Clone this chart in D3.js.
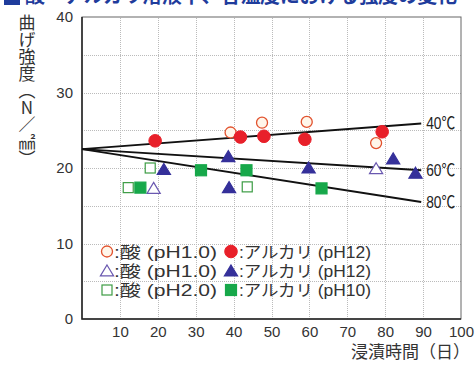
<!DOCTYPE html>
<html>
<head>
<meta charset="utf-8">
<script src="https://cdn.jsdelivr.net/npm/d3@7"></script>
<style>
  body { margin: 0; background: #fff; }
  svg { display: block; font-family: "Liberation Sans", "Noto Sans CJK JP", sans-serif; }
</style>
</head>
<body>
<svg id="chart" width="475" height="365"></svg>
<script>
// data
const xTicks = [10, 20, 30, 40, 50, 60, 70, 80, 90, 100];
const yTicks = [0, 10, 20, 30, 40];
const acidCircle = [[39.2, 24.7], [47.5, 26.0], [59.3, 26.1], [77.6, 23.3]];
const alkCircle = [[19.3, 23.6], [41.8, 24.1], [48, 24.2], [58.8, 23.8], [79.2, 24.8]];
const acidTri = [[18.9, 17.3], [77.6, 19.9]];
const alkTri = [[21.6, 19.8], [38.6, 21.5], [38.8, 17.4], [59.8, 20.0], [82.1, 21.2], [88, 19.3]];
const acidSq = [[12.2, 17.4], [18.0, 20.0], [43.6, 17.5]];
const alkSq = [[15.4, 17.4], [31.4, 19.7], [43.4, 19.7], [63.2, 17.3]];
const tempLabels = ['40℃', '60℃', '80℃'];
const lineStart = [0, 22.5];
const lineEndX = 89.5;
const lineEndY = [25.9, 19.7, 15.5];
const legendRows = [
  [':酸 (pH1.0)', ':アルカリ (pH12)'],
  [':酸 (pH1.0)', ':アルカリ (pH12)'],
  [':酸 (pH2.0)', ':アルカリ (pH10)']
];

const svg = d3.select('#chart');
const x = d3.scaleLinear().domain([0, 100]).range([82, 461]);
const y = d3.scaleLinear().domain([0, 40]).range([319, 17]);

// title, cut at the top edge
svg.append('rect').attr('x', 4).attr('y', -8).attr('width', 16).attr('height', 13).attr('fill', '#1f3c9c');
svg.append('text').attr('x', 25).attr('y', 3)
  .attr('font-size', 20).attr('font-weight', 'bold').attr('fill', '#1f3c9c')
  .attr('font-family', 'Noto Sans CJK JP')
  .attr('textLength', 432)
  .text('酸・アルカリ溶液中、各温度における強度の変化');

// grid
const grid = svg.append('g').attr('stroke', '#bbb').attr('stroke-width', 1).attr('stroke-dasharray', '1,1');
d3.range(5, 40, 5).forEach(v => {
  grid.append('line').attr('x1', x(0)).attr('x2', x(100)).attr('y1', Math.round(y(v)) + 0.5).attr('y2', Math.round(y(v)) + 0.5);
});
d3.range(10, 100, 10).forEach(v => {
  grid.append('line').attr('y1', y(0)).attr('y2', y(40)).attr('x1', Math.round(x(v)) + 0.5).attr('x2', Math.round(x(v)) + 0.5);
});

// frame
svg.append('rect').attr('x', x(0)).attr('y', y(40)).attr('width', x(100) - x(0)).attr('height', y(0) - y(40))
  .attr('fill', 'none').attr('stroke', '#666').attr('stroke-width', 1);
svg.append('path').attr('d', `M${x(0)},${y(40)}V${y(0)}H${x(100)}`).attr('fill', 'none').attr('stroke', '#222').attr('stroke-width', 1.5);

// axes
const xAxis = svg.append('g').attr('transform', `translate(0,${y(0) + 4})`)
  .call(d3.axisBottom(x).tickValues(xTicks).tickSize(0).tickPadding(3));
xAxis.select('.domain').remove();
xAxis.selectAll('text').attr('font-size', 15).attr('fill', '#333').attr('font-family', 'Liberation Sans, Arial, sans-serif');

const yAxis = svg.append('g').attr('transform', `translate(${x(0) - 9},0)`)
  .call(d3.axisLeft(y).tickValues(yTicks).tickSize(0).tickPadding(0));
yAxis.select('.domain').remove();
yAxis.selectAll('text').attr('font-size', 15).attr('fill', '#333').attr('font-family', 'Liberation Sans, Arial, sans-serif');

svg.append('text').attr('x', 470).attr('y', 358).attr('text-anchor', 'end')
  .attr('font-size', 17).attr('fill', '#333').attr('font-family', 'Noto Sans CJK JP')
  .text('浸漬時間（日）');

svg.append('text').attr('x', 27).attr('y', 14)
  .attr('font-size', 17).attr('fill', '#333').attr('font-family', 'Noto Sans CJK JP')
  .style('writing-mode', 'vertical-rl').style('text-orientation', 'upright')
  .text('曲げ強度（N／㎟）');

// regression lines
const lines = svg.append('g');
lineEndY.forEach((ey, i) => {
  lines.append('line')
    .attr('x1', x(lineStart[0])).attr('y1', y(lineStart[1]))
    .attr('x2', x(lineEndX)).attr('y2', y(ey))
    .attr('stroke', '#111').attr('stroke-width', 2);
  lines.append('text').attr('x', x(lineEndX) + 5).attr('y', y(ey) + 6)
    .attr('font-size', 17).attr('fill', '#222').attr('textLength', 29).attr('lengthAdjust', 'spacingAndGlyphs')
    .text(tempLabels[i]);
});

// markers
const red = '#e8202a', redOpen = '#e2522e', blue = '#35309a', blueOpen = '#6a58b0', green = '#17a84a', greenOpen = '#3c9c44';
const triPath = s => `M0,${-s * 0.55}L${s * 0.6},${s * 0.45}L${-s * 0.6},${s * 0.45}Z`;

function drawMarker(g, kind, open, cx, cy) {
  if (kind === 'circle') {
    g.append('circle').attr('cx', cx).attr('cy', cy).attr('r', open ? 5.5 : 6.3)
      .attr('fill', open ? '#fff6ea' : red).attr('stroke', open ? redOpen : red).attr('stroke-width', open ? 1.3 : 1);
  } else if (kind === 'tri') {
    g.append('path').attr('transform', `translate(${cx},${cy})`).attr('d', triPath(11))
      .attr('fill', open ? '#fff' : blue).attr('stroke', open ? blueOpen : blue).attr('stroke-width', 1.2);
  } else {
    const s = open ? 10 : 11;
    g.append('rect').attr('x', cx - s / 2).attr('y', cy - s / 2).attr('width', s).attr('height', s)
      .attr('fill', open ? '#fff' : green).attr('stroke', open ? greenOpen : green).attr('stroke-width', 1.2);
  }
}

const pts = svg.append('g');
[[acidCircle, 'circle', true], [alkCircle, 'circle', false], [acidTri, 'tri', true],
 [alkTri, 'tri', false], [acidSq, 'sq', true], [alkSq, 'sq', false]].forEach(([data, kind, open]) => {
  data.forEach(d => drawMarker(pts, kind, open, x(d[0]), y(d[1])));
});

// legend
const legend = svg.append('g');
const kinds = ['circle', 'tri', 'sq'];
const rowY = [251.5, 271, 290];
legendRows.forEach((row, i) => {
  drawMarker(legend, kinds[i], true, 107, rowY[i]);
  legend.append('text').attr('x', 114).attr('y', rowY[i] + 6).attr('font-size', 16).attr('fill', '#333')
    .attr('textLength', 103).attr('lengthAdjust', 'spacingAndGlyphs').text(row[0]);
  drawMarker(legend, kinds[i], false, 231, rowY[i]);
  legend.append('text').attr('x', 239).attr('y', rowY[i] + 6).attr('font-size', 16).attr('fill', '#333')
    .attr('textLength', 132).attr('lengthAdjust', 'spacingAndGlyphs').text(row[1]);
});
</script>
</body>
</html>
